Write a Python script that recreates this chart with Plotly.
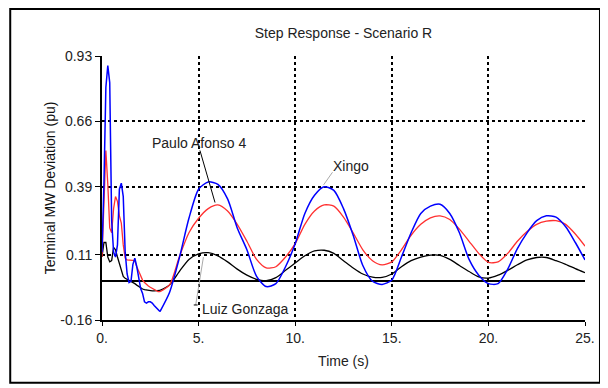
import plotly.graph_objects as go

# ---------------- data ----------------
t_early = [0.0, 0.1, 0.2, 0.3, 0.4, 0.5, 0.6, 0.7, 0.8, 0.9,
           1.0, 1.1, 1.2, 1.3, 1.4, 1.5, 1.6, 1.7, 1.8, 1.9,
           2.0, 2.1, 2.2, 2.3, 2.4, 2.5, 2.6, 2.7, 2.8, 2.9, 3.0]
t_late = [3.0, 3.5, 4.0, 4.5, 5.0, 5.5, 6.0, 6.5, 7.0, 7.5, 8.0, 8.5, 9.0, 9.5,
          10.0, 10.5, 11.0, 11.5, 12.0, 12.5, 13.0, 13.5, 14.0, 14.5, 15.0, 15.5,
          16.0, 16.5, 17.0, 17.5, 18.0, 18.5, 19.0, 19.5, 20.0, 20.5, 21.0, 21.5,
          22.0, 22.5, 23.0, 23.5, 24.0, 24.5, 25.0]

paulo_early = [0.12, 0.40, 0.80, 0.89, 0.82, 0.25, 0.12, 0.10, 0.15, 0.38,
               0.405, 0.35, 0.12, 0.03, -0.005, 0.0, 0.07, 0.095, 0.06, 0.01,
               -0.03, -0.05, -0.085, -0.09, -0.085, -0.085, -0.09, -0.10, -0.11, -0.12, -0.125]
paulo_late = [-0.125, -0.045, 0.095, 0.26, 0.38, 0.41, 0.40, 0.34, 0.22, 0.13, 0.02, -0.022,
              -0.01, 0.06, 0.155, 0.28, 0.355, 0.39, 0.375, 0.30, 0.19, 0.065, 0.0, -0.013,
              0.005, 0.10, 0.20, 0.28, 0.31, 0.318, 0.28, 0.20, 0.09, 0.025, -0.01, -0.01,
              0.05, 0.135, 0.20, 0.25, 0.27, 0.265, 0.225, 0.16, 0.088]

xingo_early = [0.10, 0.35, 0.54, 0.40, 0.22, 0.20, 0.30, 0.35, 0.33, 0.27,
               0.24, 0.15, 0.095, 0.088, 0.088, 0.088, 0.088, 0.085, 0.06, 0.04,
               0.02, 0.005, -0.005, -0.015, -0.02, -0.025, -0.03, -0.035, -0.04, -0.043, -0.043]
xingo_late = [-0.043, -0.015, 0.10, 0.20, 0.26, 0.30, 0.315, 0.29, 0.235, 0.165, 0.09, 0.055,
              0.06, 0.10, 0.155, 0.235, 0.29, 0.315, 0.31, 0.265, 0.20, 0.13, 0.085, 0.068,
              0.08, 0.13, 0.19, 0.235, 0.262, 0.27, 0.255, 0.215, 0.165, 0.115, 0.078, 0.08,
              0.115, 0.165, 0.205, 0.235, 0.248, 0.25, 0.235, 0.195, 0.145]

luiz_early = [0.10, 0.16, 0.16, 0.10, 0.08, 0.085, 0.14, 0.13, 0.10, 0.075,
              0.045, 0.02, 0.012, 0.008, 0.004, 0.0, -0.005, -0.01, -0.016, -0.022,
              -0.028, -0.032, -0.035, -0.037, -0.039, -0.04, -0.04, -0.04, -0.04, -0.04, -0.038]
luiz_late = [-0.038, -0.015, 0.04, 0.09, 0.113, 0.118, 0.105, 0.08, 0.05, 0.025, 0.008, 0.002,
             0.015, 0.045, 0.075, 0.105, 0.125, 0.128, 0.115, 0.085, 0.055, 0.03, 0.017, 0.016,
             0.03, 0.06, 0.085, 0.10, 0.108, 0.107, 0.09, 0.065, 0.04, 0.018, 0.013, 0.025,
             0.045, 0.068, 0.088, 0.098, 0.098, 0.085, 0.07, 0.052, 0.035]

x_tickvals = [0, 5, 10, 15, 20, 25]
x_ticktext = ["0.", "5.", "10.", "15.", "20.", "25."]
y_tickvals = [-0.16, 0.11, 0.39, 0.66, 0.93]
y_ticktext = ["-0.16", "0.11", "0.39", "0.66", "0.93"]

FONT = "Liberation Sans, Arial, sans-serif"
TXT = "#222222"

fig = go.Figure()

series = [
    ("Luiz Gonzaga", luiz_early, luiz_late, "#000000", 1.3),
    ("Xingo", xingo_early, xingo_late, "#ff3030", 1.3),
    ("Paulo Afonso 4", paulo_early, paulo_late, "#0000ff", 1.5),
]
for name, ye, yl, col, w in series:
    fig.add_trace(go.Scatter(x=t_early, y=ye, mode="lines", name=name,
                             line=dict(color=col, width=w), showlegend=False))
    fig.add_trace(go.Scatter(x=t_late, y=yl, mode="lines", name=name,
                             line=dict(color=col, width=w, shape="spline", smoothing=0.7),
                             showlegend=False))

# leader lines for labels
fig.add_shape(type="line", xref="x", yref="y", x0=5.07, y0=0.54, x1=5.85, y1=0.325,
              line=dict(color="#000000", width=1))
fig.add_shape(type="line", xref="x", yref="y", x0=11.93, y0=0.45, x1=11.47, y1=0.398,
              line=dict(color="#aaaaaa", width=1))
fig.add_shape(type="line", xref="x", yref="y", x0=5.25, y0=0.10, x1=4.85, y1=-0.098,
              line=dict(color="#aaaaaa", width=1))
fig.add_shape(type="line", xref="x", yref="y", x0=4.75, y0=-0.098, x1=4.95, y1=-0.098,
              line=dict(color="#000000", width=1))

ann_font = dict(family=FONT, size=14, color=TXT)
fig.add_annotation(x=5.0, y=0.571, xref="x", yref="y", text="Paulo Afonso 4",
                   showarrow=False, font=ann_font)
fig.add_annotation(x=12.9, y=0.476, xref="x", yref="y", text="Xingo",
                   showarrow=False, font=ann_font)
fig.add_annotation(x=7.42, y=-0.115, xref="x", yref="y", text="Luiz Gonzaga",
                   showarrow=False, font=ann_font)

# outer frame
fig.add_shape(type="rect", xref="paper", yref="paper",
              x0=-0.19, x1=1.031, y0=-0.238, y1=1.178,
              line=dict(color="#000000", width=2), fillcolor="rgba(0,0,0,0)")

# page body has an 8px margin, so the figure is 8px smaller and offsets compensated
fig.update_layout(
    width=600, height=380,
    margin=dict(l=94, r=23, t=48, b=68),
    paper_bgcolor="white", plot_bgcolor="white",
    font=dict(family=FONT, size=14, color=TXT),
    title=dict(text="Step Response - Scenario R", x=0.5, xref="paper",
               xanchor="center", y=1 - 25 / 380, yanchor="middle",
               font=dict(family=FONT, size=14, color=TXT)),
    showlegend=False,
)
fig.update_xaxes(
    range=[0, 25], tickvals=x_tickvals, ticktext=x_ticktext,
    showline=True, linecolor="black", linewidth=2,
    ticks="outside", ticklen=4, tickcolor="black", tickwidth=1,
    showgrid=True, gridcolor="black", gridwidth=1.5, griddash="dot",
    zeroline=False,
    title=dict(text="Time (s)", standoff=11, font=dict(family=FONT, size=14, color=TXT)),
)
fig.update_yaxes(
    range=[-0.16, 0.93], tickvals=y_tickvals, ticktext=y_ticktext,
    showline=True, linecolor="black", linewidth=2,
    ticks="outside", ticklen=5, tickcolor="black", tickwidth=1,
    showgrid=True, gridcolor="black", gridwidth=1.5, griddash="dot",
    zeroline=True, zerolinecolor="black", zerolinewidth=2,
    title=dict(text="Terminal MW Deviation (pu)", standoff=1,
               font=dict(family=FONT, size=14, color="#111111")),
)

fig.write_html("out.html")
